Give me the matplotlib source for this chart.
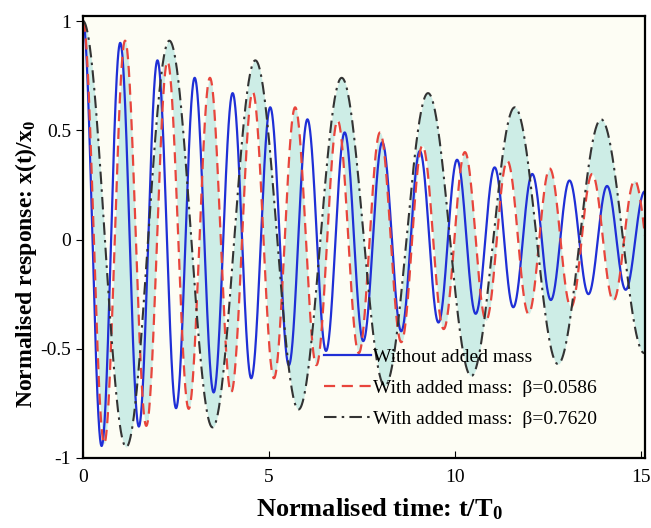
import numpy as np
import matplotlib
matplotlib.use('Agg')
import matplotlib.pyplot as plt

plt.rcParams['font.family'] = ['Liberation Serif', 'DejaVu Serif']
plt.rcParams['mathtext.default'] = 'regular'

# extrema (time t/T0, value)
blue_t = [0, 0.5, 1.0, 1.5, 2.0, 2.5, 3.0, 3.51, 4.02, 4.52, 5.03, 5.53, 6.03, 6.53, 7.03, 7.53,
          8.04, 8.55, 9.05, 9.55, 10.05, 10.55, 11.06, 11.56, 12.07, 12.57, 13.07, 13.58, 14.08, 14.58, 15.09]
blue_v = [1.0, -0.945, 0.90, -0.856, 0.82, -0.772, 0.74, -0.70, 0.67, -0.635, 0.605, -0.575, 0.55, -0.51, 0.49, -0.465,
          0.445, -0.42, 0.405, -0.38, 0.365, -0.34, 0.33, -0.31, 0.30, -0.277, 0.27, -0.25, 0.245, -0.23, 0.22]

red_t = [0, 0.57, 1.13, 1.70, 2.27, 2.84, 3.41, 3.98, 4.56, 5.13, 5.70, 6.27, 6.84, 7.41,
         7.98, 8.55, 9.12, 9.69, 10.26, 10.83, 11.40, 11.97, 12.54, 13.11, 13.68, 14.25, 14.82, 15.39]
red_v = [1.0, -0.934, 0.91, -0.853, 0.815, -0.775, 0.74, -0.70, 0.675, -0.635, 0.605, -0.575, 0.545, -0.52,
         0.49, -0.47, 0.43, -0.41, 0.40, -0.37, 0.36, -0.34, 0.325, -0.31, 0.30, -0.28, 0.27, -0.25]

black_t = [0, 1.16, 2.32, 3.48, 4.63, 5.79, 6.95, 8.11, 9.27, 10.43, 11.6, 12.76, 13.92, 15.08]
black_v = [1.0, -0.95, 0.91, -0.86, 0.82, -0.778, 0.74, -0.67, 0.67, -0.625, 0.605, -0.57, 0.55, -0.52]

labels = ['Without added mass', 'With added mass:  \u03b2=0.0586', 'With added mass:  \u03b2=0.7620']


def through_extrema(te, ve, t):
    # half-cosine between neighbouring extrema
    te = np.asarray(te); ve = np.asarray(ve)
    i = np.clip(np.searchsorted(te, t, side='right') - 1, 0, len(te) - 2)
    s = (t - te[i]) / (te[i + 1] - te[i])
    return ve[i] + (ve[i + 1] - ve[i]) * (1 - np.cos(np.pi * s)) / 2


t = np.linspace(0, 15.1, 3000)
xb = through_extrema(blue_t, blue_v, t)
xr = through_extrema(red_t, red_v, t)
xk = through_extrema(black_t, black_v, t)

fig = plt.figure(figsize=(6.51, 5.28), dpi=100)
ax = fig.add_axes([0.1275, 0.1326, 0.8633, 0.8371])
ax.set_facecolor('#fdfdf4')

ax.fill_between(t, xr, xk, color='#cdede6', lw=0)
ax.plot(t, xb, '-', color='#1f2fd6', lw=1.6, label=labels[0])
ax.plot(t, xr, '--', color='#e8453c', lw=1.6, dashes=(5, 3), label=labels[1])
ax.plot(t, xk, '-.', color='#333333', lw=1.5, dashes=(6, 2.5, 1.2, 2.5), label=labels[2])

ax.set_xlim(0, 15.1)
ax.set_ylim(-1.0, 1.023)
ax.set_xticks([0, 5, 10, 15])
ax.set_xticklabels(['0', '5', '10', '15'])
ax.set_yticks([-1, -0.5, 0, 0.5, 1])
ax.set_yticklabels(['-1', '-0.5', '0', '0.5', '1'])
ax.tick_params(axis='x', direction='in', length=5, labelsize=14, pad=8)
ax.tick_params(axis='y', direction='out', length=5, labelsize=14)
for sp in ax.spines.values():
    sp.set_linewidth(1.6)

ax.set_xlabel('Normalised time: t/T$_0$', fontsize=19, fontweight='bold')
ax.set_ylabel('Normalised response: x(t)/x$_0$', fontsize=17, fontweight='bold')
ax.xaxis.set_label_coords(0.528, -0.088)
ax.yaxis.set_label_coords(-0.078, 0.44)

ax.legend(loc='upper left', bbox_to_anchor=(0.415, 0.265), frameon=False, fontsize=14,
          handlelength=2.4, handletextpad=0.12, labelspacing=0.68, borderaxespad=0)

fig.savefig('out.png', dpi=100)
